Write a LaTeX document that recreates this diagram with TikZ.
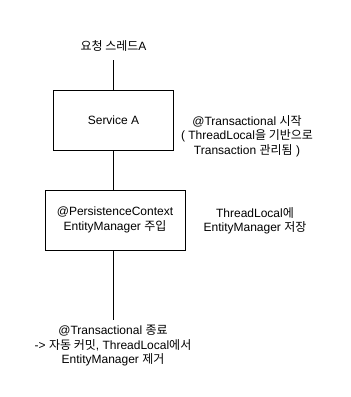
\documentclass[tikz,border=0pt]{standalone}
\usepackage{fontspec}
\setmainfont{Liberation Sans}
\newfontfamily\kr{Noto Sans CJK KR}
\newcommand{\K}[1]{{\kr #1}}
\begin{document}
\begin{tikzpicture}[x=1pt,y=-1pt,
  box/.style={draw=black,line width=1pt,fill=white,inner sep=0pt},
  lbl/.style={align=center,font=\fontsize{12}{14.5}\selectfont,inner sep=0pt},
  conn/.style={draw=black,line width=1pt}]
\useasboundingbox[fill=white] (0,0) rectangle (351,397);
\node[box,minimum width=120,minimum height=60] (sa) at (113.5,120) {};
\node[lbl] at (sa.center) {Service A};
\node[box,minimum width=140,minimum height=60] (pc) at (115,220) {};
\node[lbl] (pct) at (pc.center) {@PersistenceContext\\EntityManager \K{주입}};
\node[lbl] (title) at (113.5,46) {\K{요청 스레드}A};
\coordinate (t0) at (113.5,60);
\coordinate (b0) at (113.5,320);
\node[lbl] (r1) at (247,136) {@Transactional \K{시작}\\( ThreadLocal\K{을 기반으로}\\Transaction \K{관리됨} )};
\node[lbl] (r2) at (255,221) {ThreadLocal\K{에}\\EntityManager \K{저장}};
\node[lbl] (bt) at (113,346) {@Transactional \K{종료}\\-> \K{자동 커밋}, ThreadLocal\K{에서}\\EntityManager \K{제거}};
\draw[conn] (t0) -- (sa.north);
\draw[conn] (sa.south) -- (sa.south |- pc.north);
\draw[conn] (sa.south |- pc.south) -- (b0);
\end{tikzpicture}
\end{document}
